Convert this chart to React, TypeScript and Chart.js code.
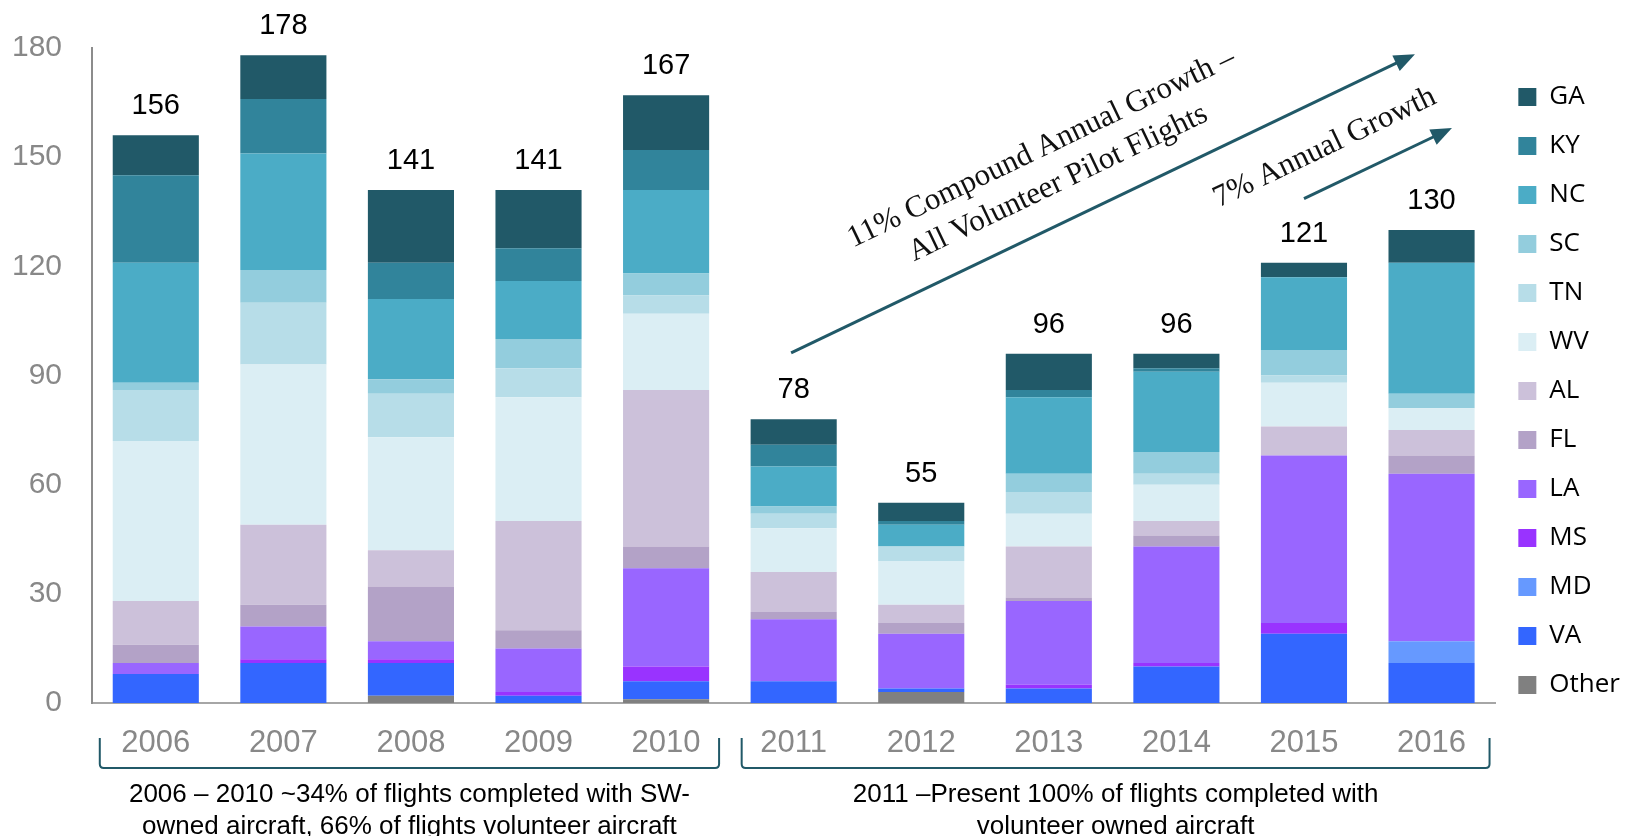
import React, { useEffect, useRef } from "react";
import { Chart, registerables } from "chart.js";

Chart.register(...registerables);

const years = ["2006", "2007", "2008", "2009", "2010", "2011", "2012", "2013", "2014", "2015", "2016"];

// stacked from bottom to top
const other = [0, 0, 2, 0, 1, 0, 3, 0, 0, 0, 0];
const va = [8, 11, 9, 2, 5, 6, 1, 4, 10, 19, 11];
const md = [0, 0, 0, 0, 0, 0, 0, 0, 0, 0, 6];
const ms = [0, 1, 1, 1, 4, 0, 0, 1, 1, 3, 0];
const la = [3, 9, 5, 12, 27, 17, 15, 23, 32, 46, 46];
const fl = [5, 6, 15, 5, 6, 2, 3, 1, 3, 0, 5];
const al = [12, 22, 10, 30, 43, 11, 5, 14, 4, 8, 7];
const wv = [44, 44, 31, 34, 21, 12, 12, 9, 10, 12, 6];
const tn = [14, 17, 12, 8, 5, 4, 4, 6, 3, 2, 0];
const sc = [2, 9, 4, 8, 6, 2, 0, 5, 6, 7, 4];
const nc = [33, 32, 22, 16, 23, 11, 6, 21, 22, 20, 36];
const ky = [24, 15, 10, 9, 11, 6, 1, 2, 1, 0, 0];
const ga = [11, 12, 20, 16, 15, 7, 5, 10, 4, 4, 9];

const yTicks = [0, 30, 60, 90, 120, 150, 180];

const series = [
  { label: "Other", data: other, color: "#808080" },
  { label: "VA", data: va, color: "#3366ff" },
  { label: "MD", data: md, color: "#6699ff" },
  { label: "MS", data: ms, color: "#9933ff" },
  { label: "LA", data: la, color: "#9966ff" },
  { label: "FL", data: fl, color: "#b3a2c7" },
  { label: "AL", data: al, color: "#ccc1da" },
  { label: "WV", data: wv, color: "#dbeef4" },
  { label: "TN", data: tn, color: "#b7dde8" },
  { label: "SC", data: sc, color: "#93cddd" },
  { label: "NC", data: nc, color: "#4bacc6" },
  { label: "KY", data: ky, color: "#31849b" },
  { label: "GA", data: ga, color: "#215968" },
];

const totals = years.map((_, i) => series.reduce((s, d) => s + d.data[i], 0));

const growthText1 = ["11% Compound Annual Growth \u2013", "All Volunteer Pilot Flights"];
const growthText2 = "7% Annual Growth";
const periodText1 = ["2006 \u2013 2010 ~34% of flights completed with SW-", "owned aircraft, 66% of flights volunteer aircraft"];
const periodText2 = ["2011 \u2013Present 100% of flights completed with", "volunteer owned aircraft"];

const ACCENT = "#215968";
const ANGLE = -25.6 * Math.PI / 180;

function drawArrow(ctx: CanvasRenderingContext2D, x0: number, y0: number, x1: number, y1: number) {
  const ang = Math.atan2(y1 - y0, x1 - x0);
  const headLen = 21;
  const headW = 17;
  const bx = x1 - headLen * Math.cos(ang);
  const by = y1 - headLen * Math.sin(ang);
  ctx.strokeStyle = ACCENT;
  ctx.lineWidth = 3;
  ctx.beginPath();
  ctx.moveTo(x0, y0);
  ctx.lineTo(bx + 2 * Math.cos(ang), by + 2 * Math.sin(ang));
  ctx.stroke();
  ctx.fillStyle = ACCENT;
  ctx.beginPath();
  ctx.moveTo(x1, y1);
  ctx.lineTo(bx + (headW / 2) * Math.sin(ang), by - (headW / 2) * Math.cos(ang));
  ctx.lineTo(bx - (headW / 2) * Math.sin(ang), by + (headW / 2) * Math.cos(ang));
  ctx.closePath();
  ctx.fill();
}

function drawBracket(ctx: CanvasRenderingContext2D, xl: number, xr: number, yt: number, yb: number) {
  const r = 4;
  ctx.strokeStyle = ACCENT;
  ctx.lineWidth = 2;
  ctx.beginPath();
  ctx.moveTo(xl, yt);
  ctx.lineTo(xl, yb - r);
  ctx.quadraticCurveTo(xl, yb, xl + r, yb);
  ctx.lineTo(xr - r, yb);
  ctx.quadraticCurveTo(xr, yb, xr, yb - r);
  ctx.lineTo(xr, yt);
  ctx.stroke();
}

function rotatedText(ctx: CanvasRenderingContext2D, text: string, x: number, y: number) {
  ctx.save();
  ctx.translate(x, y);
  ctx.rotate(ANGLE);
  ctx.fillText(text, 0, 0);
  ctx.restore();
}

const annotationPlugin = {
  id: "customAnnotations",
  afterDraw(chart: any) {
    const { ctx, chartArea } = chart;
    const xs = chart.scales.x;
    const ys = chart.scales.y;
    const px = (v: number) => xs.getPixelForValue(v);
    const py = (v: number) => ys.getPixelForValue(v);
    ctx.save();

    // totals above bars
    ctx.font = '29px "Liberation Sans", Arial, sans-serif';
    ctx.fillStyle = "#000";
    ctx.textAlign = "center";
    ctx.textBaseline = "middle";
    totals.forEach((t, i) => {
      ctx.fillText(String(t), px(i), py(t) - 29);
    });

    // growth arrows
    drawArrow(ctx, px(4.98), py(96.2), px(9.87), py(178.3));
    drawArrow(ctx, px(9.0), py(138.6), px(10.16), py(158));

    // rotated serif texts
    ctx.fillStyle = "#111";
    ctx.font = '31px "Liberation Serif", "Times New Roman", serif';
    ctx.textAlign = "center";
    ctx.textBaseline = "alphabetic";
    rotatedText(ctx, growthText1[0], px(6.97), py(150.4));
    rotatedText(ctx, growthText1[1], px(7.1), py(140.8));
    rotatedText(ctx, growthText2, px(9.19), py(150.6));

    // brackets
    const yt = chartArea.bottom + 35;
    const yb = chartArea.bottom + 65;
    const l1 = px(0) - 56, r1 = px(4) + 53;
    const l2 = px(5) - 52, r2 = px(10) + 58;
    drawBracket(ctx, l1, r1, yt, yb);
    drawBracket(ctx, l2, r2, yt, yb);

    // period texts
    ctx.fillStyle = "#000";
    ctx.font = '26px "Liberation Sans", Arial, sans-serif';
    ctx.textAlign = "center";
    ctx.textBaseline = "alphabetic";
    const c1 = (l1 + r1) / 2, c2 = (l2 + r2) / 2;
    ctx.fillText(periodText1[0], c1, chartArea.bottom + 99);
    ctx.fillText(periodText1[1], c1, chartArea.bottom + 131);
    ctx.fillText(periodText2[0], c2, chartArea.bottom + 99);
    ctx.fillText(periodText2[1], c2, chartArea.bottom + 131);

    ctx.restore();
  },
};

export default function App() {
  const canvasRef = useRef<HTMLCanvasElement | null>(null);

  useEffect(() => {
    const canvas = canvasRef.current;
    if (!canvas) return;
    Chart.defaults.font.family = '"Liberation Sans", Arial, sans-serif';
    const chart = new Chart(canvas, {
      type: "bar",
      data: {
        labels: years,
        datasets: series.map((s) => ({
          label: s.label,
          data: s.data,
          backgroundColor: s.color,
          borderWidth: 0,
          barPercentage: 0.675,
          categoryPercentage: 1,
        })),
      },
      options: {
        responsive: false,
        animation: false,
        devicePixelRatio: 1,
        layout: { padding: { top: 45, bottom: 63, left: 0, right: 9 } },
        plugins: {
          tooltip: { enabled: false },
          legend: {
            position: "right",
            align: "start",
            reverse: true,
            title: {
              display: true,
              text: " ",
              font: { size: 10 },
              padding: { top: 1, bottom: 3 },
            },
            labels: {
              font: { family: '"Open Sans", "Noto Sans", sans-serif', size: 26 },
              color: "#000",
              boxWidth: 18,
              boxHeight: 18,
              padding: 23,
            },
          },
        },
        scales: {
          x: {
            stacked: true,
            grid: { display: false, drawTicks: false },
            border: { display: true, color: "#a6a6a6", width: 2 },
            ticks: {
              color: "#888888",
              font: { size: 31 },
              padding: 22,
            },
            afterFit: (scale: any) => {
              scale.height = 70;
            },
          },
          y: {
            stacked: true,
            min: 0,
            max: 180,
            grid: { display: false, drawTicks: false },
            border: { display: true, color: "#8c8c8c", width: 2 },
            afterBuildTicks: (scale: any) => {
              scale.ticks = yTicks.map((v) => ({ value: v }));
            },
            ticks: {
              color: "#888888",
              font: { size: 30 },
              padding: 30,
            },
            afterFit: (scale: any) => {
              scale.width = 92;
            },
          },
        },
      },
      plugins: [annotationPlugin],
    });
    return () => chart.destroy();
  }, []);

  return (
    <div style={{ position: "fixed", left: 0, top: 0, width: 1639, height: 836, background: "#fff" }}>
      <canvas ref={canvasRef} width={1639} height={836} style={{ display: "block" }} />
    </div>
  );
}
